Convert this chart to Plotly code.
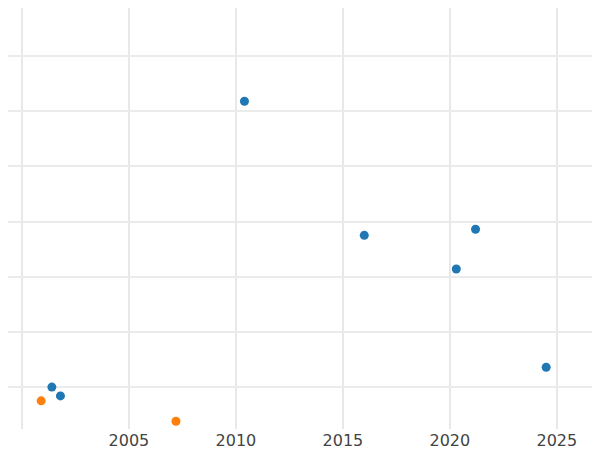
import plotly.graph_objects as go

blue_x = [2010.4, 2016.0, 2021.2, 2020.3, 2024.5, 2001.4, 2001.8]
blue_y = [6.18, 3.75, 3.86, 3.14, 1.36, 1.0, 0.84]
orange_x = [2000.9, 2007.2]
orange_y = [0.75, 0.38]

fig = go.Figure()
fig.add_trace(go.Scatter(x=blue_x, y=blue_y, mode="markers",
                         marker=dict(color="#1f77b4", size=9)))
fig.add_trace(go.Scatter(x=orange_x, y=orange_y, mode="markers",
                         marker=dict(color="#ff7f0e", size=9)))

fig.update_layout(
    width=600, height=450, showlegend=False,
    margin=dict(l=0, r=0, t=0, b=29),
    plot_bgcolor="white", paper_bgcolor="white",
    font=dict(family="DejaVu Sans", size=16, color="#444"),
)
fig.update_xaxes(range=[1999.35, 2027.39], dtick=5, showgrid=True,
                 gridcolor="#e8e8e8", gridwidth=2, zeroline=False, ticks="")
fig.update_yaxes(range=[0.24, 7.87], dtick=1, showgrid=True,
                 gridcolor="#ebebeb", gridwidth=1.5, showticklabels=False,
                 zeroline=False)

fig.write_html("out.html")
